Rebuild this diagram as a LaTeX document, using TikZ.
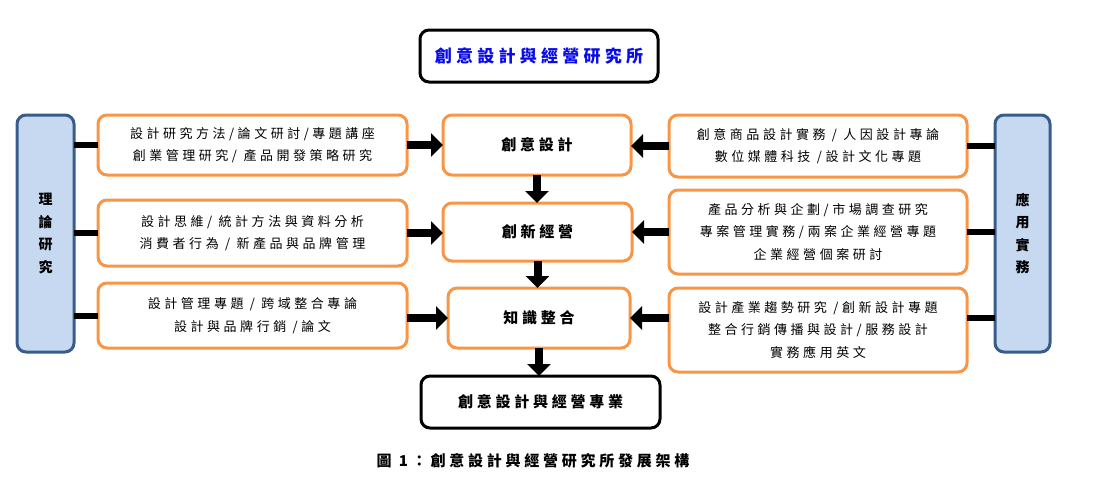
\documentclass[tikz,border=0pt]{standalone}
\usepackage{fontspec}
\setmainfont{Noto Sans CJK TC}
\newfontfamily\boxfont{Noto Sans CJK TC}[LetterSpace=27]
\newfontfamily\headfont{Noto Sans CJK TC}[LetterSpace=25]
\usetikzlibrary{arrows.meta}
\definecolor{orgline}{HTML}{F79646}
\definecolor{panfill}{HTML}{C6D9F1}
\definecolor{panline}{HTML}{385D8A}
\definecolor{titleblue}{RGB}{10,10,235}

\begin{document}
\begin{tikzpicture}[x=1pt, y=-1pt,
	nosep/.style={inner sep=0pt, outer sep=0pt},
	txtbox/.style={draw=orgline, line width=3, rounded corners=9, fill=white, align=center, nosep, font=\boxfont\fontsize{13}{22.5}\selectfont},
	midbox/.style={draw=orgline, line width=3, rounded corners=9, fill=white, align=center, nosep, font=\headfont\bfseries\fontsize{15}{18}\selectfont},
	endbox/.style={draw=black, line width=3, rounded corners=9, fill=white, align=center, nosep},
	panel/.style={draw=panline, line width=3, rounded corners=9, fill=panfill, align=center, nosep, font=\bfseries\fontsize{14}{22.5}\selectfont},
	link/.style={draw=black, line width=6},
	arrow/.style={black, line width=8, -{Triangle[length=12pt, width=23pt]}}
]
\useasboundingbox (0,0) rectangle (1108,498);

% Title
\node[endbox, minimum width=238, minimum height=52, font=\headfont\bfseries\fontsize{17}{20}\selectfont, text=titleblue] (title) at (539,56) {創意設計與經營研究所};

% Side panels
\node[panel, minimum width=57, minimum height=237] (lp) at (45.5,233.5) {理\\論\\研\\究};
\node[panel, minimum width=55, minimum height=237] (rp) at (1022.5,233.5) {應\\用\\實\\務};

% Centre column
\node[midbox, minimum width=188, minimum height=60] (c1) at (537,145) {創意設計};
\node[midbox, minimum width=189, minimum height=58] (c2) at (537.5,232) {創新經營};
\node[midbox, minimum width=182, minimum height=60] (c3) at (539,318) {知識整合};
\node[endbox, minimum width=239, minimum height=52, font=\headfont\bfseries\fontsize{15}{18}\selectfont] (goal) at (540.5,402) {創意設計與經營專業};

% Left courses
\node[txtbox, minimum width=309, minimum height=60] (l1) at (252.5,145) {設計研究方法/論文研討/專題講座\\創業管理研究/ 產品開發策略研究};
\node[txtbox, minimum width=309, minimum height=66] (l2) at (252.5,233) {設計思維/ 統計方法與資料分析\\消費者行為 / 新產品與品牌管理};
\node[txtbox, minimum width=309, minimum height=65] (l3) at (252.5,315.5) {設計管理專題 / 跨域整合專論\\設計與品牌行銷 /論文};

% Right courses
\node[txtbox, minimum width=298, minimum height=62] (r1) at (818,146) {創意商品設計實務 / 人因設計專論\\數位媒體科技 /設計文化專題};
\node[txtbox, minimum width=298, minimum height=84] (r2) at (818,232) {產品分析與企劃/市場調查研究\\專案管理實務/兩案企業經營專題\\企業經營個案研討};
\node[txtbox, minimum width=298, minimum height=84] (r3) at (818,330) {設計產業趨勢研究 /創新設計專題\\整合行銷傳播與設計/服務設計\\實務應用英文};

% Panel links
\draw[link] (l1.west -| lp.east) -- (l1.west);
\draw[link] (l2.west -| lp.east) -- (l2.west);
\draw[link] (l3.west -| lp.east) -- (l3.west);
\draw[link] (r1.east -| rp.west) -- (r1.east);
\draw[link] (r2.east -| rp.west) -- (r2.east);
\draw[link] (c3.east -| rp.west) -- (c3.east -| r3.east);

% Arrows into centre
\draw[arrow] (l1.east) -- (l1.east -| c1.west);
\draw[arrow] (l2.east) -- (l2.east -| c2.west);
\draw[arrow] (c3.west -| l3.east) -- (c3.west);
\draw[arrow] (r1.west) -- (r1.west -| c1.east);
\draw[arrow] (r2.west) -- (r2.west -| c2.east);
\draw[arrow] (c3.east -| r3.west) -- (c3.east);

% Down the centre
\draw[arrow] (c1.south) -- (c1.south |- c2.north);
\draw[arrow] (c2.south) -- (c2.south |- c3.north);
\draw[arrow] (c3.south) -- (c3.south |- goal.north);

% Caption
\node[font=\headfont\bfseries\fontsize{15}{16}\selectfont] (cap) at (533,461) {圖 1：創意設計與經營研究所發展架構};

\end{tikzpicture}
\end{document}
